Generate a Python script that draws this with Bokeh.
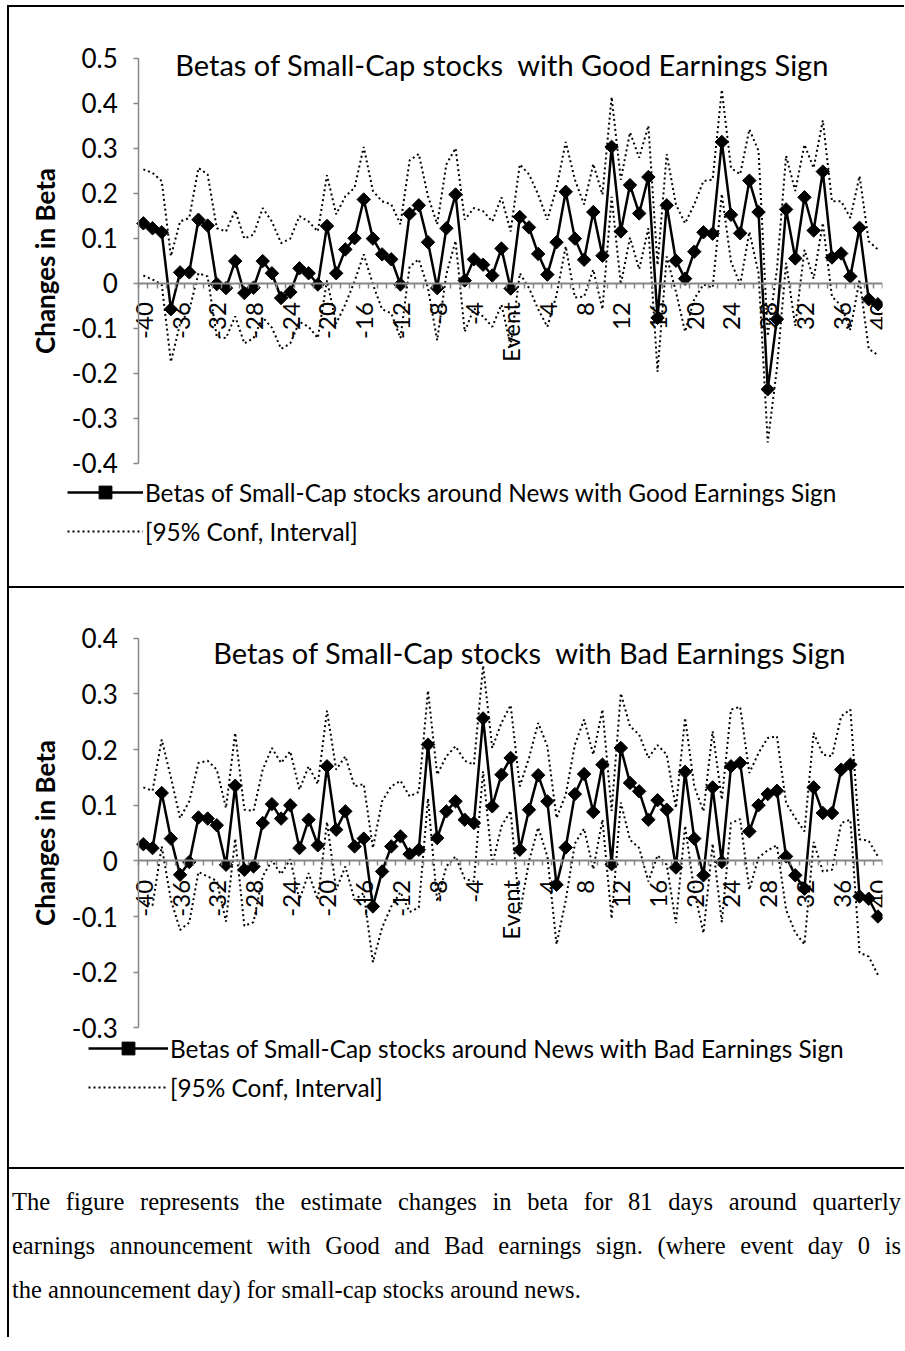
import math
from bokeh.plotting import figure
from bokeh.models import (LinearAxis, FixedTicker, Range1d, Legend, LegendItem,
                          Label, Div, ColumnDataSource, Spacer)
from bokeh.layouts import column, row
from bokeh.embed import file_html
from bokeh.resources import INLINE

# ---------------- data ----------------
days = list(range(-40, 41))

good_beta = [0.133, 0.122, 0.113, -0.058, 0.024, 0.024, 0.141, 0.128, -0.002, -0.011,
             0.049, -0.022, -0.010, 0.049, 0.022, -0.033, -0.020, 0.033, 0.022, -0.003,
             0.127, 0.022, 0.075, 0.100, 0.186, 0.099, 0.064, 0.053, -0.003, 0.154,
             0.173, 0.091, -0.011, 0.122, 0.197, 0.006, 0.053, 0.041, 0.017, 0.077,
             -0.012,
             0.147, 0.124, 0.065, 0.019, 0.091, 0.203, 0.099, 0.052, 0.158, 0.061,
             0.303, 0.115, 0.218, 0.155, 0.236, -0.077, 0.173, 0.050, 0.010, 0.070,
             0.113, 0.110, 0.314, 0.152, 0.111, 0.228, 0.158, -0.236, -0.080, 0.164,
             0.055, 0.191, 0.117, 0.248, 0.057, 0.066, 0.015, 0.123, -0.036, -0.047]
good_upper = [0.253, 0.245, 0.227, 0.060, 0.137, 0.145, 0.256, 0.242, 0.122, 0.115,
              0.162, 0.099, 0.108, 0.167, 0.137, 0.089, 0.099, 0.149, 0.137, 0.115,
              0.240, 0.153, 0.193, 0.212, 0.303, 0.205, 0.182, 0.175, 0.131, 0.273,
              0.287, 0.193, 0.131, 0.264, 0.300, 0.141, 0.167, 0.160, 0.137, 0.191,
              0.115,
              0.264, 0.242, 0.197, 0.141, 0.212, 0.314, 0.230, 0.175, 0.265, 0.197,
              0.414, 0.230, 0.335, 0.279, 0.350, 0.040, 0.287, 0.175, 0.133, 0.175,
              0.227, 0.230, 0.430, 0.256, 0.242, 0.342, 0.294, -0.118, 0.030, 0.283,
              0.205, 0.308, 0.256, 0.362, 0.182, 0.182, 0.145, 0.238, 0.093, 0.075]
good_lower = [0.017, 0.008, -0.003, -0.175, -0.090, -0.060, 0.022, 0.015, -0.120, -0.122,
              -0.074, -0.134, -0.122, -0.076, -0.099, -0.146, -0.134, -0.086, -0.097, -0.122,
              0.006, -0.090, -0.047, 0.004, 0.064, -0.003, -0.058, -0.067, -0.122, 0.037,
              0.053, -0.011, -0.127, 0.020, 0.094, -0.108, -0.056, -0.074, -0.097, -0.048,
              -0.139,
              0.022, -0.011, -0.058, -0.097, -0.026, 0.082, -0.032, -0.030, 0.030, -0.058,
              0.192, -0.003, 0.101, 0.031, 0.122, -0.197, 0.059, -0.019, -0.108, -0.035,
              -0.003, -0.010, 0.198, 0.048, -0.003, 0.114, 0.022, -0.354, -0.190, 0.045,
              -0.095, 0.074, 0.010, 0.134, -0.030, -0.050, -0.104, 0.008, -0.146, -0.160]

bad_beta = [0.030, 0.023, 0.122, 0.040, -0.025, -0.002, 0.078, 0.076, 0.064, -0.007,
            0.135, -0.016, -0.010, 0.068, 0.102, 0.076, 0.100, 0.023, 0.074, 0.028,
            0.170, 0.056, 0.089, 0.026, 0.040, -0.082, -0.019, 0.026, 0.044, 0.012,
            0.020, 0.209, 0.041, 0.089, 0.107, 0.074, 0.068, 0.256, 0.098, 0.155,
            0.185,
            0.020, 0.092, 0.154, 0.107, -0.043, 0.024, 0.120, 0.156, 0.088, 0.173,
            -0.006, 0.203, 0.140, 0.125, 0.074, 0.109, 0.092, -0.012, 0.160, 0.040,
            -0.026, 0.132, -0.002, 0.170, 0.176, 0.053, 0.100, 0.120, 0.126, 0.008,
            -0.026, -0.050, 0.132, 0.086, 0.086, 0.164, 0.173, -0.064, -0.068, -0.100]
bad_upper = [0.132, 0.126, 0.218, 0.150, 0.077, 0.107, 0.176, 0.180, 0.164, 0.095,
             0.230, 0.092, 0.090, 0.164, 0.203, 0.176, 0.197, 0.128, 0.170, 0.138,
             0.270, 0.164, 0.188, 0.134, 0.138, 0.023, 0.107, 0.134, 0.144, 0.116,
             0.124, 0.306, 0.155, 0.188, 0.206, 0.180, 0.173, 0.351, 0.203, 0.248,
             0.280,
             0.134, 0.185, 0.248, 0.206, 0.077, 0.119, 0.209, 0.254, 0.191, 0.272,
             0.090, 0.301, 0.242, 0.227, 0.185, 0.208, 0.191, 0.095, 0.257, 0.134,
             0.089, 0.233, 0.110, 0.272, 0.277, 0.158, 0.194, 0.221, 0.224, 0.104,
             0.077, 0.053, 0.230, 0.191, 0.188, 0.260, 0.272, 0.039, 0.036, 0.008]
bad_lower = [-0.072, -0.080, 0.026, -0.070, -0.124, -0.111, -0.020, -0.028, -0.036, -0.109,
             0.040, -0.117, -0.110, -0.028, 0.001, -0.024, 0.003, -0.070, -0.022, -0.070,
             0.070, -0.052, -0.010, -0.070, -0.058, -0.182, -0.120, -0.082, -0.056, -0.092,
             -0.084, 0.112, -0.073, -0.010, 0.008, -0.032, -0.037, 0.161, -0.007, 0.062,
             0.090,
             -0.094, -0.001, 0.060, 0.008, -0.150, -0.071, 0.031, 0.058, -0.015, 0.074,
             -0.104, 0.105, 0.038, 0.023, -0.037, 0.010, -0.007, -0.112, 0.063, -0.054,
             -0.130, 0.031, -0.110, 0.068, 0.075, -0.052, 0.006, 0.019, 0.028, -0.088,
             -0.129, -0.150, 0.034, -0.019, -0.016, 0.068, 0.074, -0.165, -0.172, -0.205]

x_major_ticks = list(range(-40, 41, 4))
x_tick_labels = ["Event" if t == 0 else str(t) for t in x_major_ticks]
x_minor_ticks = [d - 0.5 for d in days] + [40.5]

good_y_ticks = [-0.4, -0.3, -0.2, -0.1, 0, 0.1, 0.2, 0.3, 0.4, 0.5]
good_y_labels = ["-0.4", "-0.3", "-0.2", "-0.1", "0", "0.1", "0.2", "0.3", "0.4", "0.5"]
bad_y_ticks = [-0.3, -0.2, -0.1, 0, 0.1, 0.2, 0.3, 0.4]
bad_y_labels = ["-0.3", "-0.2", "-0.1", "0", "0.1", "0.2", "0.3", "0.4"]

good_title = "Betas of Small-Cap stocks \u00a0with Good Earnings Sign"
bad_title = "Betas of Small-Cap stocks \u00a0with Bad Earnings Sign"
good_legend = "Betas of Small-Cap stocks around News with Good Earnings Sign"
bad_legend = "Betas of Small-Cap stocks around News with Bad Earnings Sign"
ci_legend = "[95% Conf, Interval]"
caption_lines = ["The figure represents the estimate changes in beta for 81 days around quarterly",
                 "earnings announcement with Good and Bad earnings sign. (where event day 0 is",
                 "the announcement day) for small-cap stocks around news."]

FONT = "Lato"
GRAY = "#868686"
W = 897          # host width incl. 2px left border -> canvas page x 9 .. 904
H = 581          # host height incl. 2px top border -> canvas 579 px
PX_PER_DAY = 742 / 81
FRAME_LEFT = 16  # local px; the value axis sits 113 px further right
X_START = -40.5 - 113 / PX_PER_DAY


def make_panel(beta, upper, lower, yticks, ylabels, ymin, ymax, yr, title, title_x, title_y,
               legend_label, mtop, mbottom, leg_x, leg_y, glyph_w):
    p = figure(width=W, height=H, output_backend="svg", toolbar_location=None,
               x_range=Range1d(X_START, 40.5), y_range=Range1d(*yr),
               x_axis_type=None, y_axis_type=None,
               min_border_left=FRAME_LEFT, min_border_right=24,
               min_border_top=mtop, min_border_bottom=mbottom,
               background_fill_color="white", border_fill_color="white",
               styles={"border-top": "2px solid black", "border-left": "2px solid black"})
    p.outline_line_color = None
    p.xgrid.visible = False
    p.ygrid.visible = False

    src = ColumnDataSource(dict(d=days, beta=beta, up=upper, lo=lower))

    yaxis = LinearAxis(fixed_location=-40.5,
                       ticker=FixedTicker(ticks=yticks, minor_ticks=[]),
                       bounds=(ymin, ymax),
                       major_label_overrides={t: l for t, l in zip(yticks, ylabels)},
                       axis_label="Changes in Beta",
                       axis_label_text_font=FONT, axis_label_text_font_style="bold",
                       axis_label_text_font_size="26px", axis_label_text_color="black",
                       axis_label_standoff=8,
                       major_label_text_font=FONT, major_label_text_font_size="26px",
                       major_label_text_color="black", major_label_standoff=16,
                       axis_line_color=GRAY, axis_line_width=1.5,
                       major_tick_line_color=GRAY, major_tick_line_width=1.5,
                       major_tick_out=5, major_tick_in=0)
    p.add_layout(yaxis, "left")

    xaxis = LinearAxis(fixed_location=0, bounds=(-40.5, 40.5),
                       ticker=FixedTicker(ticks=x_major_ticks, minor_ticks=x_minor_ticks),
                       major_label_overrides={t: l for t, l in zip(x_major_ticks, x_tick_labels)},
                       major_label_orientation=math.pi / 2,
                       major_label_text_font=FONT, major_label_text_font_size="24px",
                       major_label_text_color="black", major_label_standoff=14,
                       axis_line_color=GRAY, axis_line_width=2,
                       major_tick_line_color=None, major_tick_out=3, major_tick_in=0,
                       minor_tick_line_color=GRAY, minor_tick_line_width=1.5,
                       minor_tick_out=5, minor_tick_in=0)
    p.add_layout(xaxis, "below")

    r_up = p.line("d", "up", source=src, line_color="black", line_width=2,
                  line_dash="2 3")
    r_lo = p.line("d", "lo", source=src, line_color="black", line_width=2,
                  line_dash="2 3")
    r_line = p.line("d", "beta", source=src, line_color="black", line_width=2.5)
    r_pts = p.scatter("d", "beta", source=src, marker="square", angle=math.pi / 4,
                      size=9.5, fill_color="black", line_color="black")

    p.add_layout(Label(x=title_x, y=title_y, text=title, text_font=FONT,
                       text_font_size="29px", text_color="black",
                       text_align="center", text_baseline="middle"))

    legend = Legend(items=[LegendItem(label=legend_label, renderers=[r_line, r_pts]),
                           LegendItem(label=ci_legend, renderers=[r_up])],
                    location=(leg_x, leg_y), orientation="vertical",
                    label_text_font=FONT, label_text_font_size="24.4px",
                    label_text_color="black", label_standoff=2,
                    glyph_width=glyph_w, glyph_height=32, label_height=32,
                    spacing=7, padding=0, margin=0,
                    border_line_color=None, background_fill_alpha=0)
    p.add_layout(legend, "center")
    return p


# top chart: frame page y 20..565 (value 0.5 at 57.6, -0.4 at 461)
p1 = make_panel(good_beta, good_upper, good_lower, good_y_ticks, good_y_labels,
                -0.4, 0.5, (-0.6321, 0.5839), good_title, -0.93, 0.485, good_legend,
                13, 21, 42, 20, 76)
# bottom chart: frame page y 600..1140 (value 0.4 at 637.7, -0.3 at 1025.7)
p2 = make_panel(bad_beta, bad_upper, bad_lower, bad_y_ticks, bad_y_labels,
                -0.3, 0.4, (-0.5062, 0.468), bad_title, 2.07, 0.374, bad_legend,
                12, 27, 63, 39, 80)

html = "".join(
    '<div style="display:block; width:889px; text-align:justify; text-align-last:%s;">%s</div>'
    % ("justify" if i < 2 else "left", line)
    for i, line in enumerate(caption_lines))
div = Div(text=html, width=897, height=170, margin=0,
          styles={"border-top": "2px solid black", "border-left": "2px solid black",
                  "font-family": "Liberation Serif", "font-size": "24.5px",
                  "line-height": "44px", "padding-top": "11px", "padding-left": "3px",
                  "color": "black"})

layout = row(Spacer(width=7, height=10),
             column(Spacer(width=10, height=5), p1, p2, div, spacing=0),
             spacing=0)
open("out.html", "w").write(file_html(layout, INLINE))
